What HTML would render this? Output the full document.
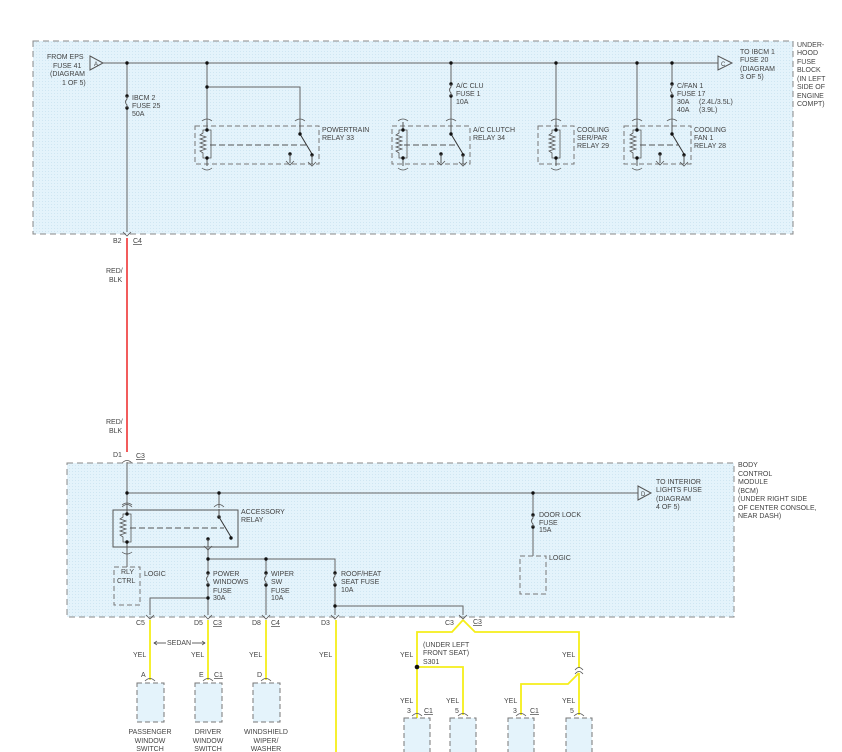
<!DOCTYPE html>
<html><head><meta charset="utf-8"><style>
body{margin:0;background:#fff}
svg{display:block;font-family:"Liberation Sans",sans-serif;font-size:7px;fill:#444}
text{fill:#444}
</style></head><body>
<svg width="842" height="752" viewBox="0 0 842 752" xmlns="http://www.w3.org/2000/svg">
<defs>
<g id="coil">
  <path d="M-5,-5 q5,-4 10,0 M-5,42 q5,4 10,0" fill="none" stroke="#555" stroke-width="0.8"/>
  <line x1="0" y1="-4" x2="0" y2="4" stroke="#555"/>
  <line x1="0" y1="32" x2="0" y2="40" stroke="#555"/>
  <path d="M0,4 L-4,4 L-4,7 l-3,2 l6,2 l-6,2 l6,2 l-6,2 l6,2 l-6,2 l6,2 l-6,2 l3,2 L-4,32 L0,32 M0,4 L4,4 L4,32 L0,32" fill="none" stroke="#555" stroke-width="0.8"/>
  <circle cx="0" cy="4" r="1.7" fill="#111"/><circle cx="0" cy="32" r="1.7" fill="#111"/>
</g>
<g id="sw">
  <path d="M-5,-5 q5,-4 10,0" fill="none" stroke="#555" stroke-width="0.8"/>
  <line x1="0" y1="-4" x2="0" y2="8" stroke="#555"/>
  <line x1="0" y1="8" x2="12" y2="28" stroke="#333"/>
  <circle cx="0" cy="8" r="1.7" fill="#111"/><circle cx="12" cy="29" r="1.7" fill="#111"/>
  <line x1="12" y1="29" x2="12" y2="38" stroke="#555"/>
  <path d="M8,36 l4,4 l4,-4" fill="none" stroke="#555" stroke-width="0.8"/>
</g>
<g id="gnd">
  <circle cx="0" cy="0" r="1.7" fill="#111"/>
  <line x1="0" y1="0" x2="0" y2="9" stroke="#555"/>
  <path d="M-4,7 l4,4 l4,-4" fill="none" stroke="#555" stroke-width="0.8"/>
</g>
<g id="fuse">
  <circle cx="0" cy="0" r="1.7" fill="#111"/><circle cx="0" cy="12" r="1.7" fill="#111"/>
  <path d="M0,0 L0,3 q-3,3 0,6 L0,12" fill="none" stroke="#555" stroke-width="0.9"/>
</g>
<path id="fem" d="M-5,2 q5,-5 10,0" fill="none" stroke="#555" stroke-width="0.8"/>
<path id="male" d="M-4,-3 l4,4 l4,-4" fill="none" stroke="#555" stroke-width="0.8"/>
<pattern id="dots" width="3" height="3" patternUnits="userSpaceOnUse"><rect width="3" height="3" fill="#e4f3fb"/><rect width="1" height="1" fill="#cfe6f2"/></pattern>
</defs>

<!-- TOP BOX -->
<rect x="33" y="41" width="760" height="193" fill="url(#dots)" stroke="#888" stroke-dasharray="6,4"/>
<g stroke="#666" stroke-width="1" fill="none">
<line x1="103" y1="63" x2="718" y2="63"/>
<line x1="127" y1="63" x2="127" y2="96"/><line x1="127" y1="108" x2="127" y2="232"/>
<line x1="207" y1="63" x2="207" y2="122"/>
<polyline points="207,87 300,87 300,122"/>
<line x1="451" y1="63" x2="451" y2="84"/><line x1="451" y1="96" x2="451" y2="122"/>
<line x1="556" y1="63" x2="556" y2="122"/>
<line x1="637" y1="63" x2="637" y2="122"/>
<line x1="672" y1="63" x2="672" y2="84"/><line x1="672" y1="96" x2="672" y2="122"/>
<polygon points="90,56 90,70 103,63" fill="#e4f3fb" stroke="#555"/>
<polygon points="718,56 718,70 732,63" fill="#e4f3fb" stroke="#555"/>
</g>
<text x="94" y="66" font-size="6">A</text><text x="721" y="66" font-size="6">C</text>
<g fill="#111"><circle cx="127" cy="63" r="1.7"/><circle cx="207" cy="63" r="1.7"/><circle cx="207" cy="87" r="1.7"/><circle cx="451" cy="63" r="1.7"/><circle cx="556" cy="63" r="1.7"/><circle cx="637" cy="63" r="1.7"/><circle cx="672" cy="63" r="1.7"/></g>
<use href="#fuse" x="127" y="96"/><use href="#fuse" x="451" y="84"/><use href="#fuse" x="672" y="84"/>
<text x="47" y="59">FROM EPS</text><text x="53" y="68">FUSE 41</text><text x="50" y="76">(DIAGRAM</text><text x="62" y="85">1 OF 5)</text>
<text x="132" y="100">IBCM 2</text><text x="132" y="108">FUSE 25</text><text x="132" y="116">50A</text>
<text x="456" y="88">A/C CLU</text><text x="456" y="96">FUSE 1</text><text x="456" y="104">10A</text>
<text x="677" y="88">C/FAN 1</text><text x="677" y="96">FUSE 17</text><text x="677" y="104">30A</text><text x="677" y="112">40A</text><text x="699" y="104">(2.4L/3.5L)</text><text x="699" y="112">(3.9L)</text>
<text x="740" y="54">TO IBCM 1</text><text x="740" y="62">FUSE 20</text><text x="740" y="71">(DIAGRAM</text><text x="740" y="79">3 OF 5)</text>
<text x="797" y="47">UNDER-</text><text x="797" y="55">HOOD</text><text x="797" y="64">FUSE</text><text x="797" y="72">BLOCK</text><text x="797" y="81">(IN LEFT</text><text x="797" y="89">SIDE OF</text><text x="797" y="98">ENGINE</text><text x="797" y="106">COMPT)</text>
<!-- relays top -->
<g fill="none" stroke="#777" stroke-dasharray="5,3">
<rect x="195" y="126" width="124" height="38"/><rect x="392" y="126" width="78" height="38"/><rect x="538" y="126" width="36" height="38"/><rect x="624" y="126" width="67" height="38"/>
</g>
<g stroke="#555" stroke-dasharray="6,3"><line x1="210" y1="145" x2="306" y2="145"/><line x1="404" y1="145" x2="457" y2="145"/><line x1="640" y1="145" x2="678" y2="145"/></g>
<use href="#coil" x="207" y="126"/><use href="#sw" x="300" y="126"/><use href="#gnd" x="290" y="154"/>
<use href="#coil" x="403" y="126"/><use href="#sw" x="451" y="126"/><use href="#gnd" x="441" y="154"/>
<use href="#coil" x="556" y="126"/>
<use href="#coil" x="637" y="126"/><use href="#sw" x="672" y="126"/><use href="#gnd" x="660" y="154"/>
<text x="322" y="132">POWERTRAIN</text><text x="322" y="140">RELAY 33</text>
<text x="473" y="132">A/C CLUTCH</text><text x="473" y="140">RELAY 34</text>
<text x="577" y="132">COOLING</text><text x="577" y="140">SER/PAR</text><text x="577" y="148">RELAY 29</text>
<text x="694" y="132">COOLING</text><text x="694" y="140">FAN 1</text><text x="694" y="148">RELAY 28</text>

<!-- connector B2/C4 and red wire -->
<use href="#male" x="127" y="235"/>
<line x1="127" y1="238" x2="127" y2="452" stroke="#e33" stroke-width="1.6"/>
<text x="113" y="243">B2</text><text x="133" y="243" text-decoration="underline">C4</text>
<text x="106" y="273">RED/</text><text x="109" y="282">BLK</text>
<text x="106" y="424">RED/</text><text x="109" y="433">BLK</text>
<text x="113" y="457">D1</text><text x="136" y="458" text-decoration="underline">C3</text>
<use href="#fem" x="127" y="461"/>

<!-- BCM BOX -->
<rect x="67" y="463" width="667" height="154" fill="url(#dots)" stroke="#888" stroke-dasharray="6,4"/>
<g stroke="#666" stroke-width="1" fill="none">
<line x1="127" y1="462" x2="127" y2="508"/>
<line x1="127" y1="493" x2="638" y2="493"/>
<line x1="219" y1="493" x2="219" y2="508"/>
<line x1="533" y1="493" x2="533" y2="515"/><line x1="533" y1="527" x2="533" y2="556"/>
<line x1="127" y1="550" x2="127" y2="567"/>
<line x1="208" y1="548" x2="208" y2="573"/><line x1="208" y1="585" x2="208" y2="615"/>
<polyline points="208,559 335,559 335,573"/>
<line x1="266" y1="559" x2="266" y2="573"/><line x1="266" y1="585" x2="266" y2="615"/>
<line x1="335" y1="585" x2="335" y2="615"/>
<polyline points="208,598 150,598 150,615"/>
<polyline points="335,606 463,606 463,615"/>
<polygon points="638,486 638,500 651,493" fill="#e4f3fb" stroke="#555"/>
</g>
<text x="641" y="496" font-size="6">D</text>
<g fill="#111"><circle cx="127" cy="493" r="1.7"/><circle cx="219" cy="493" r="1.7"/><circle cx="533" cy="493" r="1.7"/><circle cx="208" cy="559" r="1.7"/><circle cx="266" cy="559" r="1.7"/><circle cx="208" cy="598" r="1.7"/><circle cx="335" cy="606" r="1.7"/></g>
<use href="#fem" x="127" y="505"/><use href="#fem" x="219" y="505"/>
<rect x="113" y="510" width="125" height="37" fill="none" stroke="#555"/>
<line x1="130" y1="528" x2="224" y2="528" stroke="#555" stroke-dasharray="6,3"/>
<use href="#coil" x="127" y="510"/>
<g><circle cx="219" cy="517" r="1.7" fill="#111"/><line x1="219" y1="509" x2="219" y2="517" stroke="#555"/><line x1="219" y1="517" x2="231" y2="537" stroke="#333"/><circle cx="231" cy="538" r="1.7" fill="#111"/></g>
<circle cx="208" cy="539" r="1.7" fill="#111"/><line x1="208" y1="539" x2="208" y2="547" stroke="#555"/><use href="#male" x="208" y="549"/>
<use href="#fuse" x="208" y="573"/><use href="#fuse" x="266" y="573"/><use href="#fuse" x="335" y="573"/><use href="#fuse" x="533" y="515"/>
<rect x="114" y="567" width="26" height="38" fill="none" stroke="#777" stroke-dasharray="5,3"/>
<rect x="520" y="556" width="26" height="38" fill="none" stroke="#777" stroke-dasharray="5,3"/>
<text x="121" y="574">RLY</text><text x="117" y="583">CTRL</text><text x="144" y="576">LOGIC</text>
<text x="549" y="560">LOGIC</text>
<text x="241" y="514">ACCESSORY</text><text x="241" y="522">RELAY</text>
<text x="213" y="576">POWER</text><text x="213" y="584">WINDOWS</text><text x="213" y="593">FUSE</text><text x="213" y="600">30A</text>
<text x="271" y="576">WIPER</text><text x="271" y="584">SW</text><text x="271" y="593">FUSE</text><text x="271" y="600">10A</text>
<text x="341" y="576">ROOF/HEAT</text><text x="341" y="584">SEAT FUSE</text><text x="341" y="592">10A</text>
<text x="539" y="517">DOOR LOCK</text><text x="539" y="525">FUSE</text><text x="539" y="532">15A</text>
<text x="656" y="484">TO INTERIOR</text><text x="656" y="492">LIGHTS FUSE</text><text x="656" y="501">(DIAGRAM</text><text x="656" y="509">4 OF 5)</text>
<text x="738" y="467">BODY</text><text x="738" y="476">CONTROL</text><text x="738" y="484">MODULE</text><text x="738" y="493">(BCM)</text><text x="738" y="501">(UNDER RIGHT SIDE</text><text x="738" y="510">OF CENTER CONSOLE,</text><text x="738" y="518">NEAR DASH)</text>

<!-- connectors at bottom of BCM -->
<use href="#male" x="150" y="618"/><use href="#male" x="208" y="618"/><use href="#male" x="266" y="618"/><use href="#male" x="335" y="618"/><use href="#male" x="463" y="618"/>
<text x="136" y="625">C5</text><text x="194" y="625">D5</text><text x="213" y="625" text-decoration="underline">C3</text>
<text x="252" y="625">D8</text><text x="271" y="625" text-decoration="underline">C4</text><text x="321" y="625">D3</text>
<text x="445" y="625">C3</text><text x="473" y="624" text-decoration="underline">C3</text>

<!-- yellow wires -->
<g stroke="#f5ee1a" stroke-width="1.8" fill="none">
<line x1="150" y1="620" x2="150" y2="680"/><line x1="208" y1="620" x2="208" y2="680"/><line x1="266" y1="620" x2="266" y2="680"/><line x1="336" y1="620" x2="336" y2="752"/>
<polyline points="463,620 452,632 417,632 417,752"/>
<polyline points="463,620 475,632 579,632 579,668"/>
<path d="M579,673 L579,715"/>
<polyline points="417,667 463,667 463,715"/>
<polyline points="579,673 568,684 521,684 521,715"/>
</g>
<path d="M575,670 q4,-5 8,0 M575,674 q4,-5 8,0" fill="none" stroke="#555" stroke-width="0.8"/>
<circle cx="417" cy="667" r="2.3" fill="#111"/>
<g stroke="#333" stroke-width="0.7"><line x1="154" y1="643" x2="205" y2="643"/></g>
<path d="M157,641 l-3,2 l3,2 M202,641 l3,2 l-3,2" fill="none" stroke="#333" stroke-width="0.7"/>
<rect x="166" y="639" width="26" height="8" fill="#fff"/><text x="167" y="645">SEDAN</text>
<text x="133" y="657">YEL</text><text x="191" y="657">YEL</text><text x="249" y="657">YEL</text><text x="319" y="657">YEL</text>
<text x="400" y="657">YEL</text><text x="562" y="657">YEL</text>
<text x="400" y="703">YEL</text><text x="446" y="703">YEL</text><text x="504" y="703">YEL</text><text x="562" y="703">YEL</text>
<text x="423" y="647">(UNDER LEFT</text><text x="423" y="655">FRONT SEAT)</text><text x="423" y="664">S301</text>
<!-- bottom components -->
<g fill="#e4f3fb" stroke="#777" stroke-dasharray="5,3">
<rect x="137" y="683" width="27" height="39"/><rect x="195" y="683" width="27" height="39"/><rect x="253" y="683" width="27" height="39"/>
<rect x="404" y="718" width="26" height="40"/><rect x="450" y="718" width="26" height="40"/><rect x="508" y="718" width="26" height="40"/><rect x="566" y="718" width="26" height="40"/>
</g>
<use href="#fem" x="150" y="679"/><use href="#fem" x="208" y="679"/><use href="#fem" x="266" y="679"/>
<use href="#fem" x="417" y="714"/><use href="#fem" x="463" y="714"/><use href="#fem" x="521" y="714"/><use href="#fem" x="579" y="714"/>
<text x="141" y="677">A</text><text x="199" y="677">E</text><text x="214" y="677" text-decoration="underline">C1</text><text x="257" y="677">D</text>
<text x="407" y="713">3</text><text x="424" y="713" text-decoration="underline">C1</text><text x="455" y="713">5</text>
<text x="513" y="713">3</text><text x="530" y="713" text-decoration="underline">C1</text><text x="570" y="713">5</text>
<g text-anchor="middle"><text x="150" y="734">PASSENGER</text><text x="150" y="743">WINDOW</text><text x="150" y="751">SWITCH</text>
<text x="208" y="734">DRIVER</text><text x="208" y="743">WINDOW</text><text x="208" y="751">SWITCH</text>
<text x="266" y="734">WINDSHIELD</text><text x="266" y="743">WIPER/</text><text x="266" y="751">WASHER</text></g>
</svg>
</body></html>
